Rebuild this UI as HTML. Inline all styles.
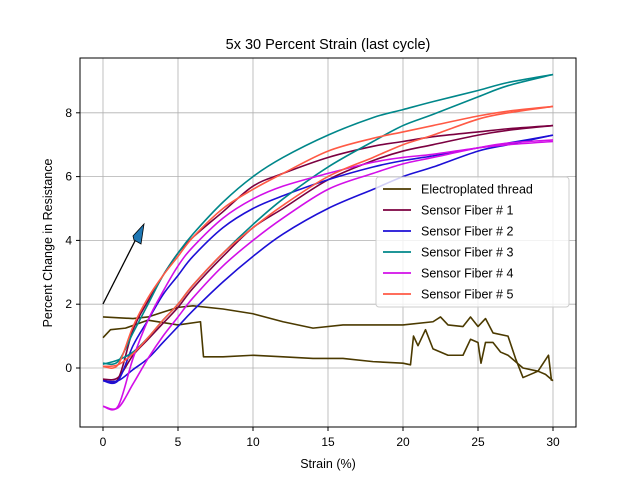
<!DOCTYPE html>
<html><head><meta charset="utf-8"><style>
body{margin:0;background:#fff}
svg text{font-family:"Liberation Sans","DejaVu Sans",sans-serif;fill:#000}
</style></head><body>
<svg id="c" width="640" height="480">
<rect width="640" height="480" fill="#fff"/>
<text x="328" y="49" font-size="14.5" text-anchor="middle">5x 30 Percent Strain (last cycle)</text>
<g id="grid"></g><g id="series"></g>
<rect x="80" y="58" width="496" height="369" fill="none" stroke="#000" stroke-width="1"/>
<g id="ticks"></g>
<text x="328" y="468" font-size="12.5" text-anchor="middle">Strain (%)</text>
<text transform="translate(52,243) rotate(-90)" font-size="12.5" text-anchor="middle">Percent Change in Resistance</text>
<g>
<line x1="103" y1="304" x2="137" y2="237" stroke="#000" stroke-width="1.3"/>
<polygon points="144,224 141,244 134,240 133,236" fill="#1f77b4" stroke="#000" stroke-width="0.8"/>
</g>
<g id="legend"></g>
</svg>
<script>
const xTicks=[0,5,10,15,20,25,30];
const yTicks=[0,2,4,6,8];
const names=["Electroplated thread","Sensor Fiber # 1","Sensor Fiber # 2","Sensor Fiber # 3","Sensor Fiber # 4","Sensor Fiber # 5"];
const colors=["#4b3a00","#7b0041","#1d0fd6","#00878a","#d20fe8","#ff5a45"];
const fx=[0,1,2,3,4,5,6,8,10,12,15,18,20,22,25,27,30];
const f1Up=[-0.35,-0.35,1.2,2.1,2.9,3.6,4.1,4.9,5.7,6.1,6.6,6.95,7.1,7.25,7.4,7.5,7.6];
const f1Lo=[-0.35,-0.3,0.4,0.9,1.4,1.9,2.5,3.5,4.4,5.0,5.9,6.5,6.8,7.0,7.3,7.45,7.6];
const f2Up=[-0.4,-0.4,0.7,1.5,2.3,2.9,3.5,4.4,5.0,5.4,5.9,6.3,6.5,6.65,6.9,7.05,7.3];
const f2Lo=[-0.4,-0.4,-0.05,0.3,0.8,1.3,1.8,2.7,3.5,4.2,5.0,5.6,6.0,6.3,6.8,7.0,7.3];
const f3Up=[0.15,0.2,1.1,2.0,2.9,3.6,4.2,5.2,6.0,6.6,7.3,7.85,8.1,8.35,8.7,8.95,9.2];
const f3Lo=[0.12,0.25,0.5,0.95,1.5,2.0,2.6,3.6,4.5,5.3,6.3,7.1,7.6,7.95,8.5,8.85,9.2];
const f4Up=[-1.2,-1.2,0.3,1.5,2.4,3.2,3.8,4.7,5.3,5.7,6.1,6.45,6.6,6.7,6.9,7.0,7.1];
const f4Lo=[-1.2,-1.25,-0.5,0.3,1.0,1.6,2.2,3.2,4.0,4.7,5.6,6.1,6.4,6.6,6.9,7.05,7.15];
const f5Up=[0.05,0.1,1.3,2.2,2.9,3.5,4.1,5.0,5.6,6.1,6.8,7.2,7.4,7.6,7.9,8.05,8.2];
const f5Lo=[0.05,0.1,0.45,0.95,1.5,2.0,2.6,3.6,4.4,5.1,6.0,6.6,7.0,7.3,7.8,8.0,8.2];
const eUpX=[0,2,3,4,5,6,8,10,12,14,16,18,20,22,22.5,23,24,24.5,25,25.5,26,27,27.5,28,29,29.5,30];
const eUpY=[1.6,1.55,1.6,1.75,1.9,1.95,1.85,1.7,1.45,1.25,1.35,1.35,1.35,1.45,1.6,1.35,1.3,1.6,1.3,1.55,1.1,1.0,0.3,-0.3,-0.1,-0.2,-0.4];
const eLoX=[0,0.5,1.5,3,5,6.5,6.7,8,10,12,14,16,18,20,20.5,20.7,21,21.5,22,23,24,24.5,25,25.2,25.5,26,26.5,27,28,29,29.7,29.9];
const eLoY=[0.95,1.2,1.25,1.5,1.35,1.45,0.35,0.35,0.4,0.35,0.3,0.3,0.2,0.15,0.1,1.0,0.7,1.2,0.6,0.4,0.4,0.9,0.8,0.15,0.8,0.8,0.5,0.4,0.0,-0.1,0.4,-0.4];
const X=v=>103+v*15, Y=v=>368-v*31.9;
const NS="http://www.w3.org/2000/svg";
function mk(t,a,p){const e=document.createElementNS(NS,t);for(const k in a)e.setAttribute(k,a[k]);p.appendChild(e);return e;}
const grid=document.getElementById('grid'),ticks=document.getElementById('ticks'),ser=document.getElementById('series');
xTicks.forEach(t=>{
 const g=mk('line',{x1:X(t),x2:X(t),y1:58,y2:427,stroke:'#b0b0b0','stroke-width':0.8},grid);
 
 
 mk('line',{x1:X(t),x2:X(t),y1:427,y2:431,stroke:'#000'},ticks);
 const tx=mk('text',{x:X(t),y:446,'font-size':12,'text-anchor':'middle'},ticks);tx.textContent=t;
 
 
});
yTicks.forEach(t=>{
 const g=mk('line',{x1:80,x2:576,y1:Y(t),y2:Y(t),stroke:'#b0b0b0','stroke-width':0.8},grid);
 
 
 mk('line',{x1:76,x2:80,y1:Y(t),y2:Y(t),stroke:'#000'},ticks);
 const tx=mk('text',{x:72,y:Y(t)+4,'font-size':12,'text-anchor':'end'},ticks);tx.textContent=t;
 
 
});
function smooth(xs,ys){
 const p=xs.map((x,i)=>[X(x),Y(ys[i])]);let d='M'+p[0][0]+','+p[0][1];
 for(let i=0;i<p.length-1;i++){const a=p[Math.max(0,i-1)],b=p[i],c=p[i+1],e=p[Math.min(p.length-1,i+2)];
  d+=` C${b[0]+(c[0]-a[0])/6},${b[1]+(c[1]-a[1])/6} ${c[0]-(e[0]-b[0])/6},${c[1]-(e[1]-b[1])/6} ${c[0]},${c[1]}`;}
 return d;}
function poly(xs,ys){return 'M'+xs.map((x,i)=>X(x)+','+Y(ys[i])).join(' L');}
function draw(d,col,nm){const e=mk('path',{d:d,fill:'none',stroke:col,'stroke-width':1.6,'stroke-linejoin':'round'},ser);
 
 }
draw(poly(eUpX,eUpY),colors[0],'electroplated-thread-loading');
draw(poly(eLoX,eLoY),colors[0],'electroplated-thread-unloading');
const fib=[[f1Up,f1Lo],[f2Up,f2Lo],[f3Up,f3Lo],[f4Up,f4Lo],[f5Up,f5Lo]];
fib.forEach((f,i)=>{draw(smooth(fx,f[0]),colors[i+1],'sensor-fiber-'+(i+1)+'-upper');draw(smooth(fx,f[1]),colors[i+1],'sensor-fiber-'+(i+1)+'-lower');});
const lg=document.getElementById('legend');
mk('rect',{x:376,y:177,width:193,height:130,rx:3,fill:'#fff','fill-opacity':0.8,stroke:'#ccc'},lg);
names.forEach((n,i)=>{const y=189+i*21;
 const l=mk('line',{x1:383,x2:411,y1:y,y2:y,stroke:colors[i],'stroke-width':1.8},lg);
 
 
 const t=mk('text',{x:421,y:y+4.5,'font-size':12.5},lg);t.textContent=n;
 
 });
</script>
</body></html>
